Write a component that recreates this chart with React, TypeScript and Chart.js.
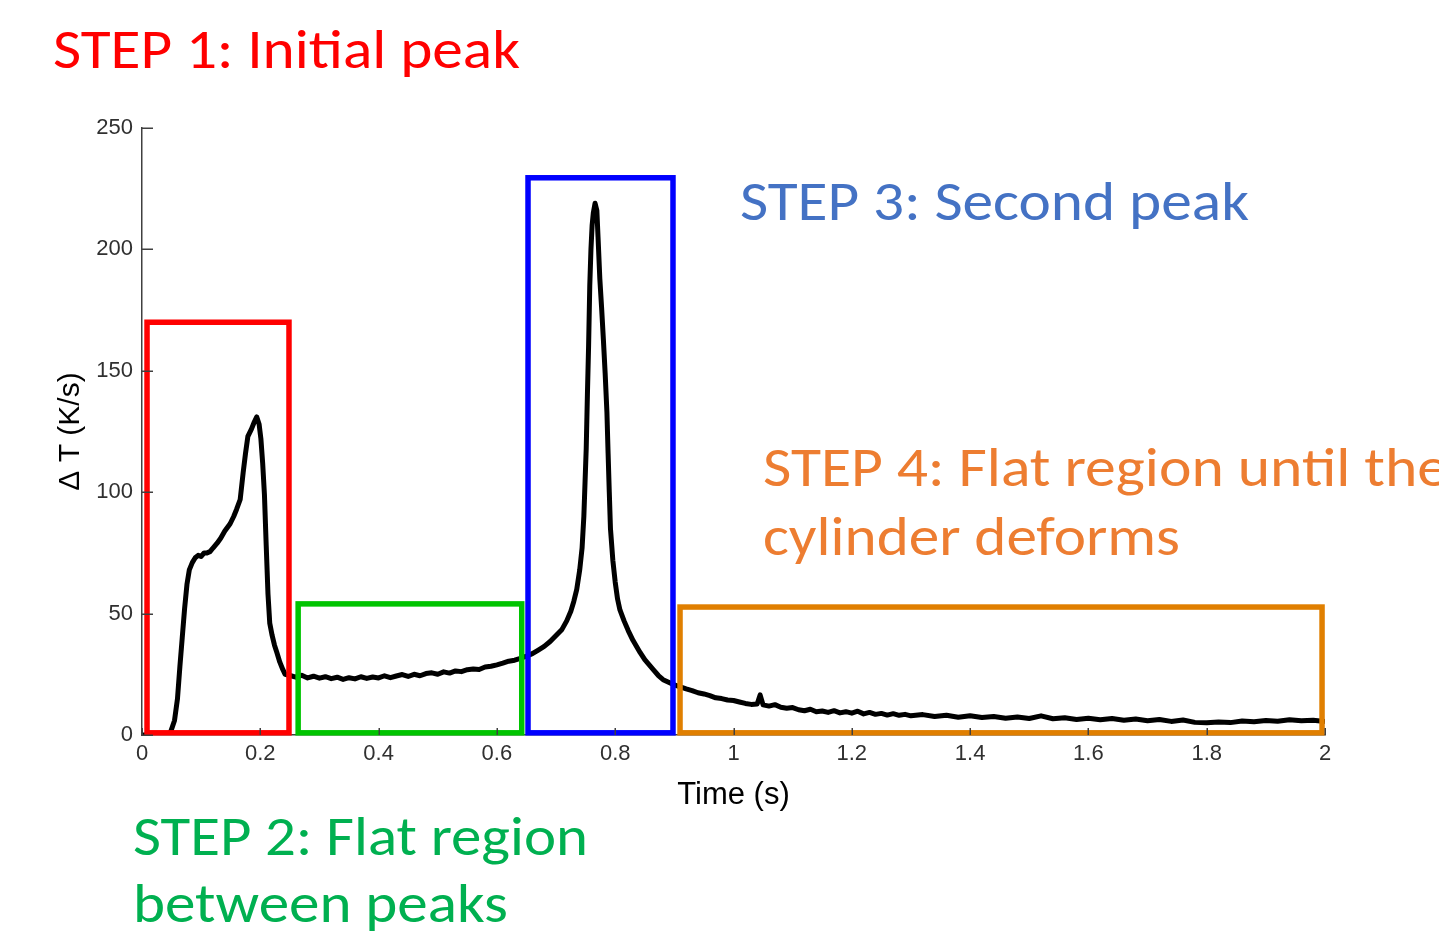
import { useEffect, useRef } from "react";
import { Chart, registerables } from "chart.js";

Chart.register(...registerables);

// Time axis samples (s)
const timeS = [
  0.0, 0.02, 0.04, 0.048, 0.055, 0.06, 0.064, 0.068, 0.072, 0.076, 0.08, 0.085, 0.09, 0.095, 0.1,
  0.105, 0.11, 0.115, 0.12, 0.127, 0.133, 0.14, 0.149, 0.155, 0.16, 0.166, 0.171, 0.175, 0.179,
  0.185, 0.19, 0.194, 0.198, 0.201, 0.204, 0.207, 0.21, 0.213, 0.216, 0.22, 0.224, 0.228, 0.233,
  0.238, 0.242, 0.25, 0.26, 0.27, 0.28, 0.29, 0.3, 0.31, 0.32, 0.33, 0.34, 0.35, 0.36, 0.37, 0.38,
  0.39, 0.4, 0.41, 0.42, 0.43, 0.44, 0.45, 0.46, 0.47, 0.48, 0.49, 0.5, 0.51, 0.52, 0.53, 0.54,
  0.55, 0.56, 0.57, 0.58, 0.59, 0.6, 0.61, 0.62, 0.63, 0.64, 0.65, 0.66, 0.67, 0.68, 0.69, 0.7,
  0.71, 0.718, 0.725, 0.73, 0.735, 0.74, 0.744, 0.747, 0.749, 0.751, 0.753, 0.755, 0.757, 0.759,
  0.761, 0.763, 0.766, 0.769, 0.771, 0.774, 0.777, 0.78, 0.783, 0.786, 0.788, 0.79, 0.792, 0.796,
  0.8, 0.804, 0.808, 0.815, 0.822, 0.83, 0.842, 0.85, 0.864, 0.873, 0.881, 0.893, 0.9, 0.91, 0.92,
  0.93, 0.94, 0.95, 0.96, 0.97, 0.98, 0.99, 1.0, 1.01, 1.02, 1.03, 1.04, 1.045, 1.05, 1.06, 1.07,
  1.08, 1.09, 1.1, 1.11, 1.12, 1.13, 1.14, 1.15, 1.16, 1.17, 1.18, 1.19, 1.2, 1.21, 1.22, 1.23,
  1.24, 1.25, 1.26, 1.27, 1.28, 1.29, 1.3, 1.32, 1.34, 1.36, 1.38, 1.4, 1.42, 1.44, 1.46, 1.48,
  1.5, 1.52, 1.54, 1.56, 1.58, 1.6, 1.62, 1.64, 1.66, 1.68, 1.7, 1.72, 1.74, 1.76, 1.78, 1.8,
  1.82, 1.84, 1.86, 1.88, 1.9, 1.92, 1.94, 1.96, 1.98, 2.0,
];

// Temperature rate ΔT (K/s)
const deltaT = [
  0, 0, 0, 1, 6, 15, 28, 40, 52, 62, 68, 71, 73, 74, 73.5,
  75, 75, 75.5, 77, 79, 81, 84, 87, 90, 93, 97, 108, 116, 123,
  126, 129, 131, 128, 122, 112, 99, 78, 58, 46, 41, 37, 34, 30,
  27, 25, 24.5, 23.8, 24.6, 23.5, 24.2, 23.4, 24.0, 23.2, 23.8, 22.9, 23.6, 23.1, 24.0, 23.3,
  23.9, 23.5, 24.4, 23.6, 24.3, 24.9, 24.1, 25.0, 24.4, 25.3, 25.6, 25.0, 26.0, 25.5, 26.4, 26.1,
  26.9, 27.2, 27.0, 28.0, 28.3, 28.9, 29.6, 30.4, 30.8, 31.6, 32.5, 33.5, 35, 36.5, 38.5, 41,
  43.5, 47, 51, 55, 60, 68, 77, 90, 104, 118, 140, 160, 185, 200,
  210, 215, 219, 216, 205, 188, 176, 163, 149, 133, 116, 100, 85, 72,
  63, 56, 51.5, 47, 43, 39, 34, 31, 27, 24.5, 22.8, 21.4, 20.6, 19.8, 19.0,
  18.3, 17.4, 16.9, 16.2, 15.3, 15.0, 14.4, 14.2, 13.6, 13.0, 12.6, 12.8, 16.5, 12.4, 11.9, 12.5,
  11.4, 11.0, 11.3, 10.4, 10.0, 10.6, 9.6, 9.9, 9.3, 10.0, 9.1, 9.6, 9.0, 9.8, 8.7, 9.3,
  8.5, 8.9, 8.2, 8.8, 8.1, 8.5, 7.9, 8.4, 7.6, 8.1, 7.3, 7.9, 7.2, 7.6, 6.9, 7.4,
  6.8, 7.9, 6.7, 7.1, 6.4, 6.9, 6.3, 6.8, 6.1, 6.6, 5.9, 6.4, 5.6, 6.2, 5.2, 5.0,
  5.4, 5.1, 5.8, 5.5, 6.0, 5.7, 6.3, 5.9, 6.1, 5.6,
];

// Highlighted stages (time range and ΔT range of each frame)
const stageXFrom = [0.0085, 0.264, 0.6526, 0.9096];
const stageXTo = [0.2485, 0.642, 0.8977, 1.995];
const stageYTop = [170, 54, 229.5, 52.7];
const stageYBottom = [0.9, 0.9, 0.9, 0.9];
const stageColors = ["#FF0000", "#00C400", "#0000FF", "#E07F00"];

const xTickValues = [0, 0.2, 0.4, 0.6, 0.8, 1, 1.2, 1.4, 1.6, 1.8, 2];
const yTickValues = [0, 50, 100, 150, 200, 250];

const AXIS_COLOR = "#404040";

const stageFrames = {
  id: "stageFrames",
  afterDatasetsDraw(chart: any) {
    const { ctx, scales } = chart;
    const x = scales.x;
    const y = scales.y;
    ctx.save();
    ctx.lineWidth = 5.5;
    ctx.lineJoin = "miter";
    for (let i = 0; i < stageXFrom.length; i++) {
      const l = x.getPixelForValue(stageXFrom[i]);
      const r = x.getPixelForValue(stageXTo[i]);
      const t = y.getPixelForValue(stageYTop[i]);
      const b = y.getPixelForValue(stageYBottom[i]);
      ctx.strokeStyle = stageColors[i];
      ctx.strokeRect(l, t, r - l, b - t);
    }
    ctx.restore();
  },
};

// MATLAB-style ticks pointing into the plot area
const inwardTicks = {
  id: "inwardTicks",
  afterDraw(chart: any) {
    const { ctx, scales, chartArea } = chart;
    const x = scales.x;
    const y = scales.y;
    ctx.save();
    ctx.strokeStyle = AXIS_COLOR;
    ctx.lineWidth = 1.5;
    ctx.beginPath();
    for (const v of yTickValues) {
      const py = Math.round(y.getPixelForValue(v)) + 0.25;
      ctx.moveTo(chartArea.left, py);
      ctx.lineTo(chartArea.left + 11, py);
    }
    for (const v of xTickValues) {
      const px = Math.round(x.getPixelForValue(v)) + 0.25;
      ctx.moveTo(px, chartArea.bottom);
      ctx.lineTo(px, chartArea.bottom - 7);
    }
    ctx.stroke();
    ctx.restore();
  },
};

const STEP_FONT = "Carlito, Calibri, Lato, sans-serif";

export default function App() {
  const canvasRef = useRef<HTMLCanvasElement | null>(null);

  useEffect(() => {
    const canvas = canvasRef.current;
    if (!canvas) return;
    const points = timeS.map((t, i) => ({ x: t, y: deltaT[i] }));
    const chart = new Chart(canvas, {
      type: "line",
      data: {
        datasets: [
          {
            label: "ΔT",
            data: points,
            borderColor: "#000000",
            borderWidth: 5,
            borderJoinStyle: "round",
            pointRadius: 0,
            tension: 0,
            fill: false,
          },
        ],
      },
      options: {
        animation: false,
        responsive: false,
        devicePixelRatio: 1,
        layout: { padding: { left: 53, top: 128, right: 114, bottom: 131 } },
        plugins: {
          legend: { display: false },
          tooltip: { enabled: false },
        },
        scales: {
          x: {
            type: "linear",
            min: 0,
            max: 2,
            afterFit: (scale: any) => {
              scale.height = 80;
            },
            afterBuildTicks: (scale: any) => {
              scale.ticks = xTickValues.map((v) => ({ value: v }));
            },
            ticks: {
              padding: 6,
              color: "#303030",
              font: { family: "Liberation Sans, Arial, sans-serif", size: 22 },
              maxRotation: 0,
              autoSkip: false,
              callback: (v: any) => String(Number(Number(v).toFixed(1))),
            },
            grid: { display: true, drawOnChartArea: false, drawTicks: false },
            border: { display: true, color: AXIS_COLOR, width: 1.5 },
            title: {
              display: true,
              text: "Time (s)",
              color: "#000000",
              font: { family: "Liberation Sans, Arial, sans-serif", size: 31 },
              padding: { top: 0, bottom: 1 },
            },
          },
          y: {
            type: "linear",
            min: 0,
            max: 250,
            afterFit: (scale: any) => {
              scale.width = 89;
            },
            afterBuildTicks: (scale: any) => {
              scale.ticks = yTickValues.map((v) => ({ value: v }));
            },
            ticks: {
              padding: 9,
              color: "#303030",
              font: { family: "Liberation Sans, Arial, sans-serif", size: 22 },
            },
            grid: { display: true, drawOnChartArea: false, drawTicks: false },
            border: { display: true, color: AXIS_COLOR, width: 1.5 },
            title: {
              display: true,
              text: "Δ T (K/s)",
              color: "#000000",
              font: { family: "Liberation Sans, Arial, sans-serif", size: 30 },
              padding: { top: 0, bottom: 0 },
            },
          },
        },
      },
      plugins: [stageFrames, inwardTicks],
    });
    return () => chart.destroy();
  }, []);

  return (
    <div
      style={{
        position: "absolute",
        left: 0,
        top: 0,
        width: 1439,
        height: 946,
        overflow: "hidden",
        background: "#ffffff",
      }}
    >
      <canvas
        ref={canvasRef}
        width={1439}
        height={946}
        style={{ position: "absolute", left: 0, top: 0, width: 1439, height: 946 }}
      />
      <svg
        width={1439}
        height={946}
        style={{ position: "absolute", left: 0, top: 0, pointerEvents: "none" }}
        fontFamily={STEP_FONT}
        fontSize={56}
      >
        <text x={53} y={68} fill="#FF0000" textLength={467} lengthAdjust="spacingAndGlyphs">
          STEP 1: Initial peak
        </text>
        <text x={740} y={220} fill="#4472C4" textLength={509} lengthAdjust="spacingAndGlyphs">
          STEP 3: Second peak
        </text>
        <text x={763} y={486} fill="#ED7D31" textLength={685} lengthAdjust="spacingAndGlyphs">
          STEP 4: Flat region until the
        </text>
        <text x={763} y={555} fill="#ED7D31" textLength={417} lengthAdjust="spacingAndGlyphs">
          cylinder deforms
        </text>
        <text x={133} y={855} fill="#00B050" textLength={455} lengthAdjust="spacingAndGlyphs">
          STEP 2: Flat region
        </text>
        <text x={133} y={922} fill="#00B050" textLength={375} lengthAdjust="spacingAndGlyphs">
          between peaks
        </text>
      </svg>
    </div>
  );
}
